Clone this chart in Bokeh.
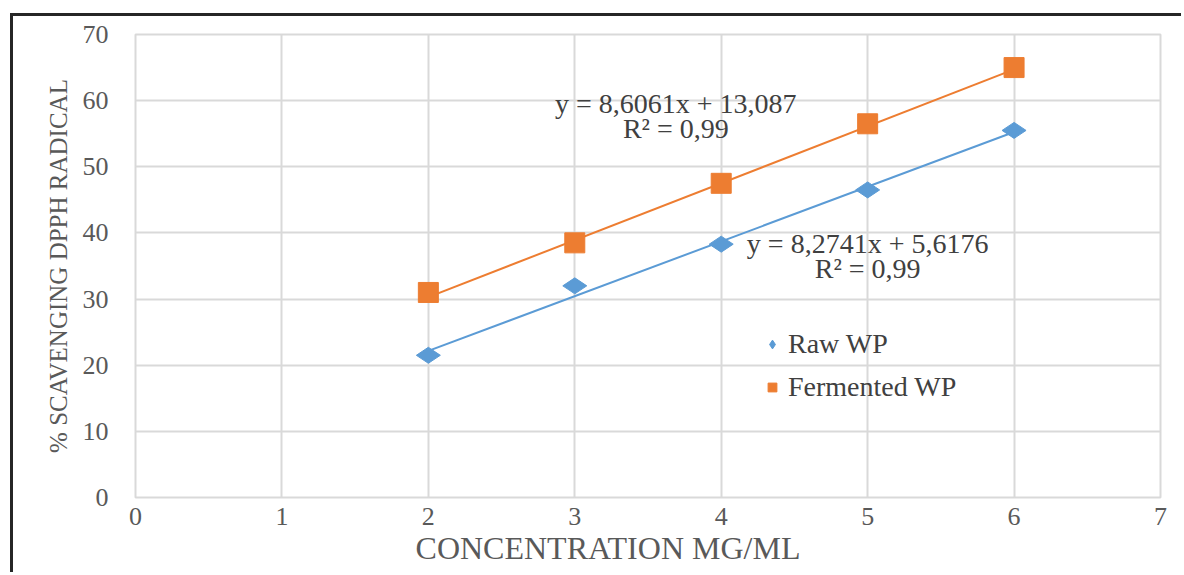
from bokeh.plotting import figure
from bokeh.models import (FixedTicker, Legend, LegendItem, Label, Range1d)
from bokeh.embed import file_html
from bokeh.resources import INLINE
import math

# ---- data ----
concentration = [2, 3, 4, 5, 6]
raw_wp = [21.5, 32.0, 38.3, 46.5, 55.5]
fermented_wp = [31.0, 38.5, 47.5, 56.5, 65.0]

raw_slope, raw_intercept = 8.2741, 5.6176
ferm_slope, ferm_intercept = 8.6061, 13.087

raw_eq = ["y = 8,2741x + 5,6176", "R² = 0,99"]
ferm_eq = ["y = 8,6061x + 13,087", "R² = 0,99"]

x_ticks = [0, 1, 2, 3, 4, 5, 6, 7]
y_ticks = [0, 10, 20, 30, 40, 50, 60, 70]
series_names = ["Raw WP", "Fermented WP"]
x_title = "CONCENTRATION MG/ML"
y_title = "% SCAVENGING DPPH RADICAL"

BLUE = "#5B9BD5"
ORANGE = "#ED7D31"
GRID = "#d9d9d9"
FONT = "Liberation Serif"

p = figure(width=1171, height=559, output_backend="svg", toolbar_location=None,
           x_range=Range1d(0, 7), y_range=Range1d(0, 70),
           min_border_left=122, min_border_top=18, min_border_right=24,
           min_border_bottom=78)
p.styles = {"border-top": "3px solid #262626", "border-left": "3px solid #262626",
            "margin-left": "10px", "margin-top": "13px"}

p.outline_line_color = GRID
p.outline_line_width = 2
p.background_fill_color = "white"
p.border_fill_color = "white"

for ax in (p.xaxis[0], p.yaxis[0]):
    ax.axis_line_color = None
    ax.major_tick_line_color = None
    ax.minor_tick_line_color = None
    ax.major_tick_out = 0
    ax.major_tick_in = 0
    ax.major_label_text_font = FONT
    ax.major_label_text_font_size = "26px"
    ax.major_label_text_color = "#595959"
    ax.axis_label_text_font = FONT
    ax.axis_label_text_font_style = "normal"
    ax.axis_label_text_color = "#595959"

p.xaxis.ticker = FixedTicker(ticks=x_ticks)
p.yaxis.ticker = FixedTicker(ticks=y_ticks)
# trailing no-break spaces shift the title left of centre, as in the original
p.xaxis.axis_label = x_title + "\u00a0" * 10
p.yaxis.axis_label = y_title
p.xaxis.axis_label_text_font_size = "32px"
p.yaxis.axis_label_text_font_size = "25px"
p.xaxis.major_label_standoff = 10
p.yaxis.major_label_standoff = 27
p.xaxis.axis_label_standoff = 2
p.yaxis.axis_label_standoff = 8

p.xgrid.ticker = FixedTicker(ticks=x_ticks)
p.ygrid.ticker = FixedTicker(ticks=y_ticks)
p.grid.grid_line_color = GRID
p.grid.grid_line_width = 2

# trendlines
xmin, xmax = min(concentration), max(concentration)
fit_x = [xmin, xmax]
p.line(fit_x, [raw_slope * v + raw_intercept for v in fit_x], line_color=BLUE, line_width=2)
p.line(fit_x, [ferm_slope * v + ferm_intercept for v in fit_x], line_color=ORANGE, line_width=2)

r_raw = p.scatter(concentration, raw_wp, marker="diamond", size=24, angle=math.pi / 2,
                  fill_color=BLUE, line_color=BLUE)
r_ferm = p.scatter(concentration, fermented_wp, marker="square", size=20,
                   fill_color=ORANGE, line_color=ORANGE)

legend = Legend(items=[LegendItem(label=series_names[0], renderers=[r_raw]),
                       LegendItem(label=series_names[1], renderers=[r_ferm])],
                location=(626, 94), orientation="vertical")
legend.background_fill_alpha = 0
legend.border_line_color = None
legend.margin = 0
legend.padding = 0
legend.spacing = 11
legend.glyph_width = 22
legend.glyph_height = 30
legend.label_height = 30
legend.label_standoff = 5
legend.label_text_font = FONT
legend.label_text_font_size = "28px"
legend.label_text_color = "#404040"
p.add_layout(legend, "center")

def add_eq(lines, x, ys):
    for t, yy in zip(lines, ys):
        p.add_layout(Label(x=x, y=yy, text=t, text_align="center", text_baseline="middle",
                           text_font=FONT, text_font_size="28px", text_color="#404040"))

add_eq(ferm_eq, 3.69, [59.6, 55.8])
add_eq(raw_eq, 5.0, [38.4, 34.6])

open("out.html", "w").write(file_html(p, INLINE))
